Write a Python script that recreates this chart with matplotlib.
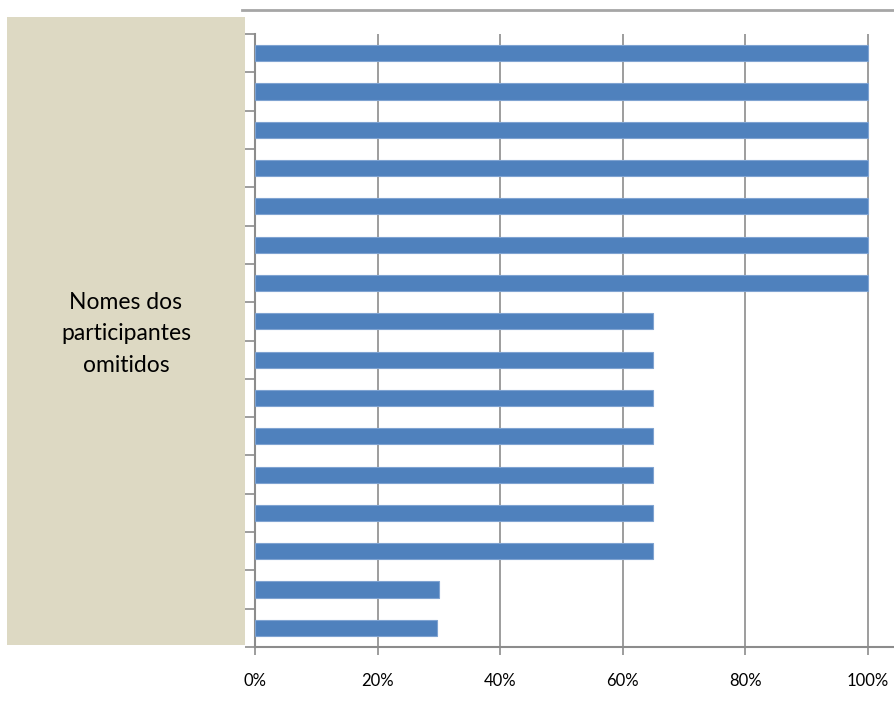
import numpy as np
import matplotlib.pyplot as plt
from matplotlib.patches import Rectangle
from matplotlib.lines import Line2D

# percentagem por participante (nomes omitidos), de cima para baixo
valores = [1.00, 1.00, 1.00, 1.00, 1.00, 1.00, 1.00,
           0.65, 0.65, 0.65, 0.65, 0.65, 0.65, 0.65,
           0.30, 0.297]
ticks_x = [0, 0.2, 0.4, 0.6, 0.8, 1.0]
rotulos_x = ["0%", "20%", "40%", "60%", "80%", "100%"]
texto_caixa = "Nomes dos\nparticipantes\nomitidos"

cor_barra = "#4F81BD"
cor_grelha = "#8C8C8C"

fig = plt.figure(figsize=(8.94, 7.02), dpi=100)
plt.rcParams['font.family'] = ['Lato', 'DejaVu Sans']

# caixa bege com o texto
fig.add_artist(Rectangle((7 / 894, 57 / 702), 238 / 894, 628 / 702,
                         transform=fig.transFigure, facecolor="#DDD9C3",
                         edgecolor="none", zorder=0))
fig.text(126 / 894, 1 - 334 / 702, texto_caixa, ha="center", va="center",
         fontsize=16.5, color="#000000", linespacing=1.6)

# linha no topo
fig.add_artist(Line2D([242 / 894, 1.0], [1 - 10 / 702, 1 - 10 / 702],
                      transform=fig.transFigure, color="#A6A6A6", lw=2))

ax = fig.add_axes([255 / 894, 55 / 702, 639 / 894, 613 / 702])
n = len(valores)
y = np.arange(n)
ax.barh(y, valores, height=0.42, color=cor_barra, edgecolor="#7FA3D1",
        linewidth=0.8, zorder=3)

ax.set_ylim(n - 0.5, -0.5)
ax.set_xlim(0, 639 / 613)

ax.set_xticks(ticks_x)
ax.set_xticklabels(rotulos_x, fontsize=12)
ax.set_yticks(np.arange(n + 1) - 0.5)
ax.set_yticklabels([])

ax.grid(axis="x", color=cor_grelha, lw=1.2, zorder=1)
ax.tick_params(axis="x", length=6, width=1.2, color=cor_grelha, pad=13)
ax.tick_params(axis="y", length=7, width=1.2, color=cor_grelha)

for lado in ["top", "right"]:
    ax.spines[lado].set_visible(False)
for lado in ["left", "bottom"]:
    ax.spines[lado].set_color(cor_grelha)
    ax.spines[lado].set_linewidth(1.5)

fig.savefig("out.png", dpi=100)
